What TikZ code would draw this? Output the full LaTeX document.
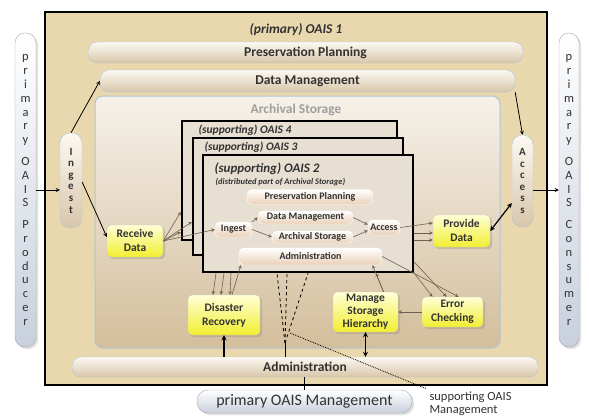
\documentclass[tikz,border=0pt]{standalone}
\usepackage{fontspec}
\setsansfont{Carlito}
\usepackage{tikz}
\usetikzlibrary{arrows, positioning, shadows}
\definecolor{parchment}{RGB}{233,216,174}
\definecolor{barhi}{RGB}{252,249,242}
\definecolor{barlo}{RGB}{216,198,170}
\definecolor{barline}{RGB}{176,196,214}
\definecolor{storhi}{RGB}{246,241,233}
\definecolor{storlo}{RGB}{212,190,156}
\definecolor{yelhi}{RGB}{255,255,214}
\definecolor{yello}{RGB}{242,238,48}
\definecolor{subfill}{RGB}{231,223,209}
\definecolor{pilllo}{RGB}{200,208,220}
\definecolor{minilo}{RGB}{234,208,184}
\definecolor{textgray}{RGB}{50,50,50}
\definecolor{thinline}{RGB}{110,95,80}

\begin{document}
\begin{tikzpicture}[x=1pt, y=-1pt,
	frame/.style={draw=black, line width=2.5pt, fill=parchment},
	bar/.style={draw=barline, top color=barhi, bottom color=barlo, rounded corners=9pt, inner sep=0pt, text=textgray, font=\sffamily\bfseries\fontsize{13.5}{15}\selectfont},
	vbar/.style={bar, rounded corners=10pt, align=center, font=\sffamily\bfseries\fontsize{11}{11.6}\selectfont},
	pill/.style={draw=gray!70, top color=white, bottom color=pilllo, rounded corners=10pt, inner sep=0pt, text=textgray, drop shadow={opacity=.25}},
	store/.style={draw=barline, line width=1pt, top color=storhi, bottom color=storlo, rounded corners=8pt},
	subbox/.style={draw=black, line width=2.5pt, fill=subfill},
	mini/.style={draw=white, top color=white, bottom color=minilo, rounded corners=5pt, inner sep=0pt, text=textgray, font=\sffamily\bfseries\fontsize{10}{11}\selectfont},
	yelbox/.style={draw=yelhi!60!gray, top color=yelhi, bottom color=yello, rounded corners=4pt, align=center, inner sep=0pt, text=textgray, font=\sffamily\bfseries\fontsize{11.5}{14}\selectfont, drop shadow={opacity=.3}},
	flow/.style={-stealth, thick},
	dflow/.style={stealth-stealth, very thick},
	thin/.style={-stealth, thinline, semithick}
	]
	\useasboundingbox (0,0) rectangle (589,418);

	\node[frame, minimum width=502, minimum height=373] (oais1) at (296,198.5) {};
	\node[font=\sffamily\bfseries\itshape\fontsize{13.5}{15}\selectfont, text=textgray] (title) at (296,30) {(primary) OAIS 1};

	\node[bar, minimum width=435, minimum height=21] (pp) at (305.5,52.5) {Preservation Planning};
	\node[bar, minimum width=415, minimum height=22] (dm) at (307.5,81) {Data Management};
	\node[store, minimum width=405, minimum height=252] (as) at (297.5,222) {};
	\node[font=\sffamily\bfseries\fontsize{13.5}{15}\selectfont, text=gray!75] (aslabel) at (296,110) {Archival Storage};
	\node[bar, minimum width=466, minimum height=20] (admin) at (305,367) {Administration};

	\node[vbar, minimum width=22, minimum height=95] (ingest) at (71,180.5) {I\\n\\g\\e\\s\\t};
	\node[vbar, minimum width=21, minimum height=92] (access) at (522.5,181) {A\\c\\c\\e\\s\\s};

	\node[pill, minimum width=21, minimum height=314, align=center, font=\sffamily\fontsize{12.5}{13.8}\selectfont] (prod) at (25.5,190)
		{p\\r\\i\\m\\a\\r\\y\\[8pt]O\\A\\I\\S\\[8pt]P\\r\\o\\d\\u\\c\\e\\r};
	\node[pill, minimum width=20, minimum height=314, align=center, font=\sffamily\fontsize{12.5}{13.8}\selectfont] (cons) at (569,190)
		{p\\r\\i\\m\\a\\r\\y\\[8pt]O\\A\\I\\S\\[8pt]C\\o\\n\\s\\u\\m\\e\\r};
	\node[pill, rounded corners=11pt, minimum width=215, minimum height=23, font=\sffamily\fontsize{16}{18}\selectfont] (mgmt) at (304.5,401.5) {primary OAIS Management};
	\node[anchor=west, align=left, text=textgray, font=\sffamily\fontsize{12.5}{13}\selectfont] (suppmgmt) at (426,404) {supporting OAIS\\Management};

	\node[subbox, minimum width=215, minimum height=119] (oais4) at (289.5,180.5) {};
	\node[anchor=west, text=textgray, font=\sffamily\bfseries\itshape\fontsize{11.5}{13}\selectfont] (t4) at (195,130) {(supporting) OAIS 4};
	\node[subbox, minimum width=210, minimum height=117] (oais3) at (298,196.5) {};
	\node[anchor=west, text=textgray, font=\sffamily\bfseries\itshape\fontsize{11.5}{13}\selectfont] (t3) at (201,147) {(supporting) OAIS 3};
	\node[subbox, minimum width=210, minimum height=117] (oais2) at (308,213.5) {};
	\node[anchor=west, text=textgray, font=\sffamily\bfseries\itshape\fontsize{13}{15}\selectfont] (t2) at (211,169) {(supporting) OAIS 2};
	\node[anchor=west, text=textgray, font=\sffamily\bfseries\itshape\fontsize{8.5}{9}\selectfont] (t2sub) at (212,182) {(distributed part of Archival Storage)};

	\node[mini, minimum width=126, minimum height=15] (pp2) at (310,197) {Preservation Planning};
	\node[mini, minimum width=95, minimum height=13] (dm2) at (305.5,217.5) {Data Management};
	\node[mini, minimum width=81, minimum height=12] (as2) at (312.5,237) {Archival Storage};
	\node[mini, minimum width=37, minimum height=15] (ingest2) at (233.5,229.5) {Ingest};
	\node[mini, minimum width=32, minimum height=15] (access2) at (384,227.5) {Access};
	\node[mini, minimum width=143, minimum height=17] (admin2) at (310.5,256.5) {Administration};

	\node[yelbox, minimum width=56, minimum height=32] (receive) at (135,241) {Receive\\Data};
	\node[yelbox, minimum width=57, minimum height=32] (provide) at (461.5,231) {Provide\\Data};
	\node[yelbox, minimum width=72, minimum height=40] (disaster) at (224,315) {Disaster\\Recovery};
	\node[yelbox, minimum width=65, minimum height=40, font=\sffamily\bfseries\fontsize{11.5}{13}\selectfont] (manage) at (365.5,312) {Manage\\Storage\\Hierarchy};
	\node[yelbox, minimum width=61, minimum height=30] (error) at (452.5,312) {Error\\Checking};

	\draw[flow] (prod.east) -- (prod.east -| ingest.west);
	\draw[flow] (cons.west -| access.east) -- (cons.west);
	\draw[flow] (ingest.north) -- (dm.west);
	\draw[flow] ([yshift=-1.5pt]ingest.east) -- ([yshift=4pt]receive.west);
	\draw[flow] (dm.south east) -- (access.north);
	\draw[dflow] (provide.east) -- ([yshift=-22pt]access.west);
	\draw[flow, very thick] (admin.north -| disaster) -- (disaster.south);
	\draw[dflow] (manage.south) -- (manage.south |- admin.north);
	\draw[thick] (admin.south -| mgmt) -- (mgmt.north);

	\coordinate (fan) at (285,343);
	\coordinate (dotstart) at (290,333);
	\foreach \x in {277,287,308}
		\draw[dashed, thick] (fan) -- (oais2.south -| \x,0);
	\draw[thick] (fan) -- (fan |- admin.north);
	\draw[densely dotted, thick] (dotstart) -- (suppmgmt.north west);

	\draw[thin] (receive.east) -- (oais4.west |- 0,212);
	\draw[thin] (receive.east) -- (oais3.west |- 0,222);
	\draw[thin] (receive.east) -- (oais4.west |- 0,232);
	\draw[thin] (receive.east) -- (ingest2.west);
	\draw[thin] (ingest2.north east) -- (dm2.west);
	\draw[thin] (ingest2.east) -- (as2.west);
	\draw[thin] (dm2.east) -- ([yshift=3pt]access2.west);
	\draw[thin] (as2.east) -- ([yshift=-3pt]access2.west);
	\draw[thin] (access2.east) -- ([yshift=8pt]provide.west);
	\draw[thin] (oais2.east |- 0,233) -- (provide.west |- 0,233);
	\draw[thin] (oais2.east |- 0,240) -- (provide.west |- 0,240);
	\draw[thin] (admin2.east) -- ([xshift=6pt]error.north);
	\draw[thin] (oais2.east |- 0,262) -- ([xshift=-6pt]error.north);
	\draw[thin] (oais2.south east) -- ([xshift=-20pt]error.north);
	\draw[thin] (error.west) -- (manage.east);
	\draw[thin] ([xshift=18pt]manage.north) -- ([xshift=62pt]admin2.south);
	\draw[thin] ([xshift=18pt]manage.north) -- (oais2.south -| 376,0);
	\foreach \a/\b in {216/213,224/221,231/230}
		\draw[thin] (oais2.south -| \a,0) -- (disaster.north -| \b,0);
	\draw[thin] ([xshift=8pt]disaster.north) -- ([xshift=2pt]admin2.south west);
\end{tikzpicture}
\end{document}
